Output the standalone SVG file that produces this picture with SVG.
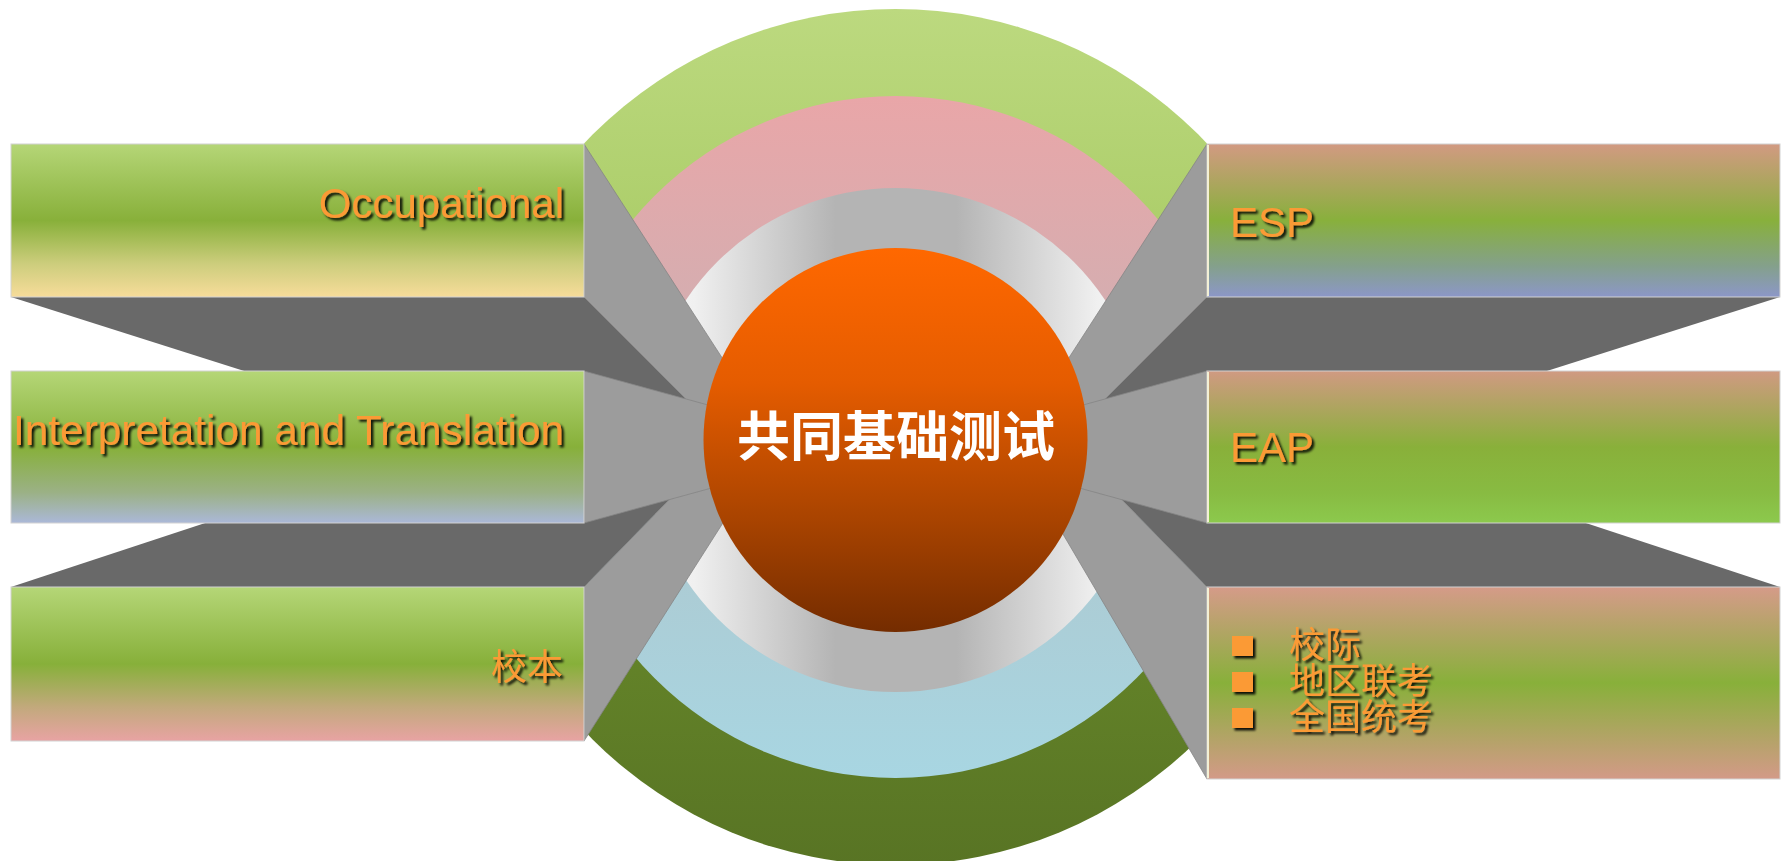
<svg xmlns="http://www.w3.org/2000/svg" width="1789" height="861" viewBox="0 0 1789 861">
  <defs>
    <linearGradient id="gOuter" gradientUnits="userSpaceOnUse" x1="0" y1="9" x2="0" y2="865">
      <stop offset="0" stop-color="#bcd97f"/>
      <stop offset="0.5" stop-color="#9fc458"/>
      <stop offset="0.5" stop-color="#6e912d"/>
      <stop offset="1" stop-color="#587424"/>
    </linearGradient>
    <linearGradient id="gMid" gradientUnits="userSpaceOnUse" x1="0" y1="96" x2="0" y2="778">
      <stop offset="0" stop-color="#e9a6a8"/>
      <stop offset="0.5" stop-color="#c9b2b5"/>
      <stop offset="0.5" stop-color="#afc5cb"/>
      <stop offset="1" stop-color="#a8d6e2"/>
    </linearGradient>
    <linearGradient id="gRing" gradientUnits="userSpaceOnUse" x1="644" y1="0" x2="1148" y2="0">
      <stop offset="0" stop-color="#f8f8f8"/>
      <stop offset="0.1" stop-color="#f0f0f0"/>
      <stop offset="0.38" stop-color="#b4b4b4"/>
      <stop offset="0.62" stop-color="#b4b4b4"/>
      <stop offset="0.9" stop-color="#f0f0f0"/>
      <stop offset="1" stop-color="#f8f8f8"/>
    </linearGradient>
    <linearGradient id="gCore" x1="0" y1="0" x2="0" y2="1">
      <stop offset="0" stop-color="#ff6800"/>
      <stop offset="0.35" stop-color="#e55c00"/>
      <stop offset="0.7" stop-color="#aa4400"/>
      <stop offset="1" stop-color="#742c00"/>
    </linearGradient>
    <linearGradient id="gB1" x1="0" y1="0" x2="0" y2="1">
      <stop offset="0" stop-color="#b5d677"/>
      <stop offset="0.5" stop-color="#88b03a"/>
      <stop offset="0.78" stop-color="#cccd7c"/>
      <stop offset="1" stop-color="#f7dc9a"/>
    </linearGradient>
    <linearGradient id="gB2" x1="0" y1="0" x2="0" y2="1">
      <stop offset="0" stop-color="#b5d677"/>
      <stop offset="0.5" stop-color="#87b03a"/>
      <stop offset="0.8" stop-color="#9bb186"/>
      <stop offset="1" stop-color="#abb8d8"/>
    </linearGradient>
    <linearGradient id="gB3" x1="0" y1="0" x2="0" y2="1">
      <stop offset="0" stop-color="#b5d677"/>
      <stop offset="0.5" stop-color="#87b03a"/>
      <stop offset="0.78" stop-color="#c2a97c"/>
      <stop offset="1" stop-color="#e8a3a3"/>
    </linearGradient>
    <linearGradient id="gR1" x1="0" y1="0" x2="0" y2="1">
      <stop offset="0" stop-color="#d29a82"/>
      <stop offset="0.5" stop-color="#88b03c"/>
      <stop offset="0.8" stop-color="#84a08c"/>
      <stop offset="1" stop-color="#8c97c8"/>
    </linearGradient>
    <linearGradient id="gR2" x1="0" y1="0" x2="0" y2="1">
      <stop offset="0" stop-color="#d09a82"/>
      <stop offset="0.5" stop-color="#89b03a"/>
      <stop offset="0.8" stop-color="#88bb42"/>
      <stop offset="1" stop-color="#8cc94d"/>
    </linearGradient>
    <linearGradient id="gR3" x1="0" y1="0" x2="0" y2="1">
      <stop offset="0" stop-color="#d59b89"/>
      <stop offset="0.5" stop-color="#88b03a"/>
      <stop offset="1" stop-color="#d39a88"/>
    </linearGradient>
    <filter id="ts" x="-10%" y="-30%" width="130%" height="170%">
      <feDropShadow dx="2.5" dy="2.5" stdDeviation="1" flood-color="#000" flood-opacity="0.9"/>
    </filter>
  </defs>
  <style>
    .side { fill: #9c9c9c; stroke: #858585; stroke-width: 0.8; }
    .dark { fill: #696969; }
    .front { stroke: #d2d2d2; stroke-width: 1; }
    .lbl { font-family: "Liberation Sans", Arial, sans-serif; font-size: 42px; fill: #fb9a36; filter: url(#ts); }
    .cjk { font-family: "Noto Sans CJK SC", "Liberation Sans", sans-serif; font-size: 36px; fill: #fb9a36; filter: url(#ts); }
    .bullet { fill: #fb9a36; filter: url(#ts); }
    .hl { stroke: #f3f0d6; stroke-width: 2; }
  </style>

  <rect width="1789" height="861" fill="#ffffff"/>

  <g id="rings">
    <circle cx="895.5" cy="437" r="428" fill="url(#gOuter)"/>
    <circle cx="895.5" cy="437" r="341" fill="url(#gMid)"/>
    <circle cx="895.5" cy="440" r="252" fill="url(#gRing)"/>
  </g>

  <g id="connectors"></g>

  <g id="node-occupational-depth">
    <polygon class="dark" points="11,297 584,297 687,400 336,400"/>
    <polygon class="side" points="584,144 770,432 687,400 584,297"/>
  </g>
  <g id="node-school-depth">
    <polygon class="dark" points="11,587 584,587 670,499 278,499"/>
    <polygon class="side" points="584,741 584,587 670,499 770,449"/>
  </g>
  <g id="node-esp-depth">
    <polygon class="dark" points="1780,297 1207,297 1104,400 1455,400"/>
    <polygon class="side" points="1207,144 1021,432 1104,400 1207,297"/>
  </g>
  <g id="node-exams-depth">
    <polygon class="dark" points="1780,587 1207,587 1121,499 1513,499"/>
    <polygon class="side" points="1207,779 1207,587 1121,499 1030,470 1040,495"/>
  </g>
  <g id="node-interpretation-depth">
    <polygon class="side" points="584,371 770,422 770,472 584,523"/>
  </g>
  <g id="node-eap-depth">
    <polygon class="side" points="1207,371 1021,422 1021,472 1207,523"/>
  </g>

  <g id="node-occupational">
    <rect class="front" x="11" y="144" width="573" height="153" fill="url(#gB1)"/>
    <text class="lbl" x="564" y="218" text-anchor="end">Occupational</text>
  </g>
  <g id="node-interpretation">
    <rect class="front" x="11" y="371" width="573" height="152" fill="url(#gB2)"/>
    <text class="lbl" x="13" y="445" textLength="551" lengthAdjust="spacingAndGlyphs">Interpretation and Translation</text>
  </g>
  <g id="node-school">
    <rect class="front" x="11" y="587" width="573" height="154" fill="url(#gB3)"/>
    <text class="cjk" x="563" y="680" text-anchor="end">校本</text>
  </g>
  <g id="node-esp">
    <rect class="front" x="1207" y="144" width="573" height="153" fill="url(#gR1)"/>
    <line class="hl" x1="1208" y1="145" x2="1208" y2="296"/>
    <text class="lbl" x="1230" y="237">ESP</text>
  </g>
  <g id="node-eap">
    <rect class="front" x="1207" y="371" width="573" height="152" fill="url(#gR2)"/>
    <line class="hl" x1="1208" y1="372" x2="1208" y2="522"/>
    <text class="lbl" x="1230" y="462">EAP</text>
  </g>
  <g id="node-exams">
    <rect class="front" x="1207" y="587" width="573" height="192" fill="url(#gR3)"/>
    <line class="hl" x1="1208" y1="588" x2="1208" y2="778"/>
    <rect class="bullet" x="1232" y="636" width="21" height="20"/>
    <rect class="bullet" x="1232" y="672" width="21" height="20"/>
    <rect class="bullet" x="1232" y="708" width="21" height="20"/>
    <text class="cjk"><tspan x="1289" y="658">校际</tspan><tspan x="1289" y="694">地区联考</tspan><tspan x="1289" y="730">全国统考</tspan></text>
  </g>

  <g id="node-center">
    <circle cx="895.5" cy="440" r="192" fill="url(#gCore)"/>
    <text x="896" y="456" text-anchor="middle" font-family="Noto Sans CJK SC, sans-serif" font-weight="bold" font-size="53" fill="#ffffff">共同基础测试</text>
  </g>
</svg>
